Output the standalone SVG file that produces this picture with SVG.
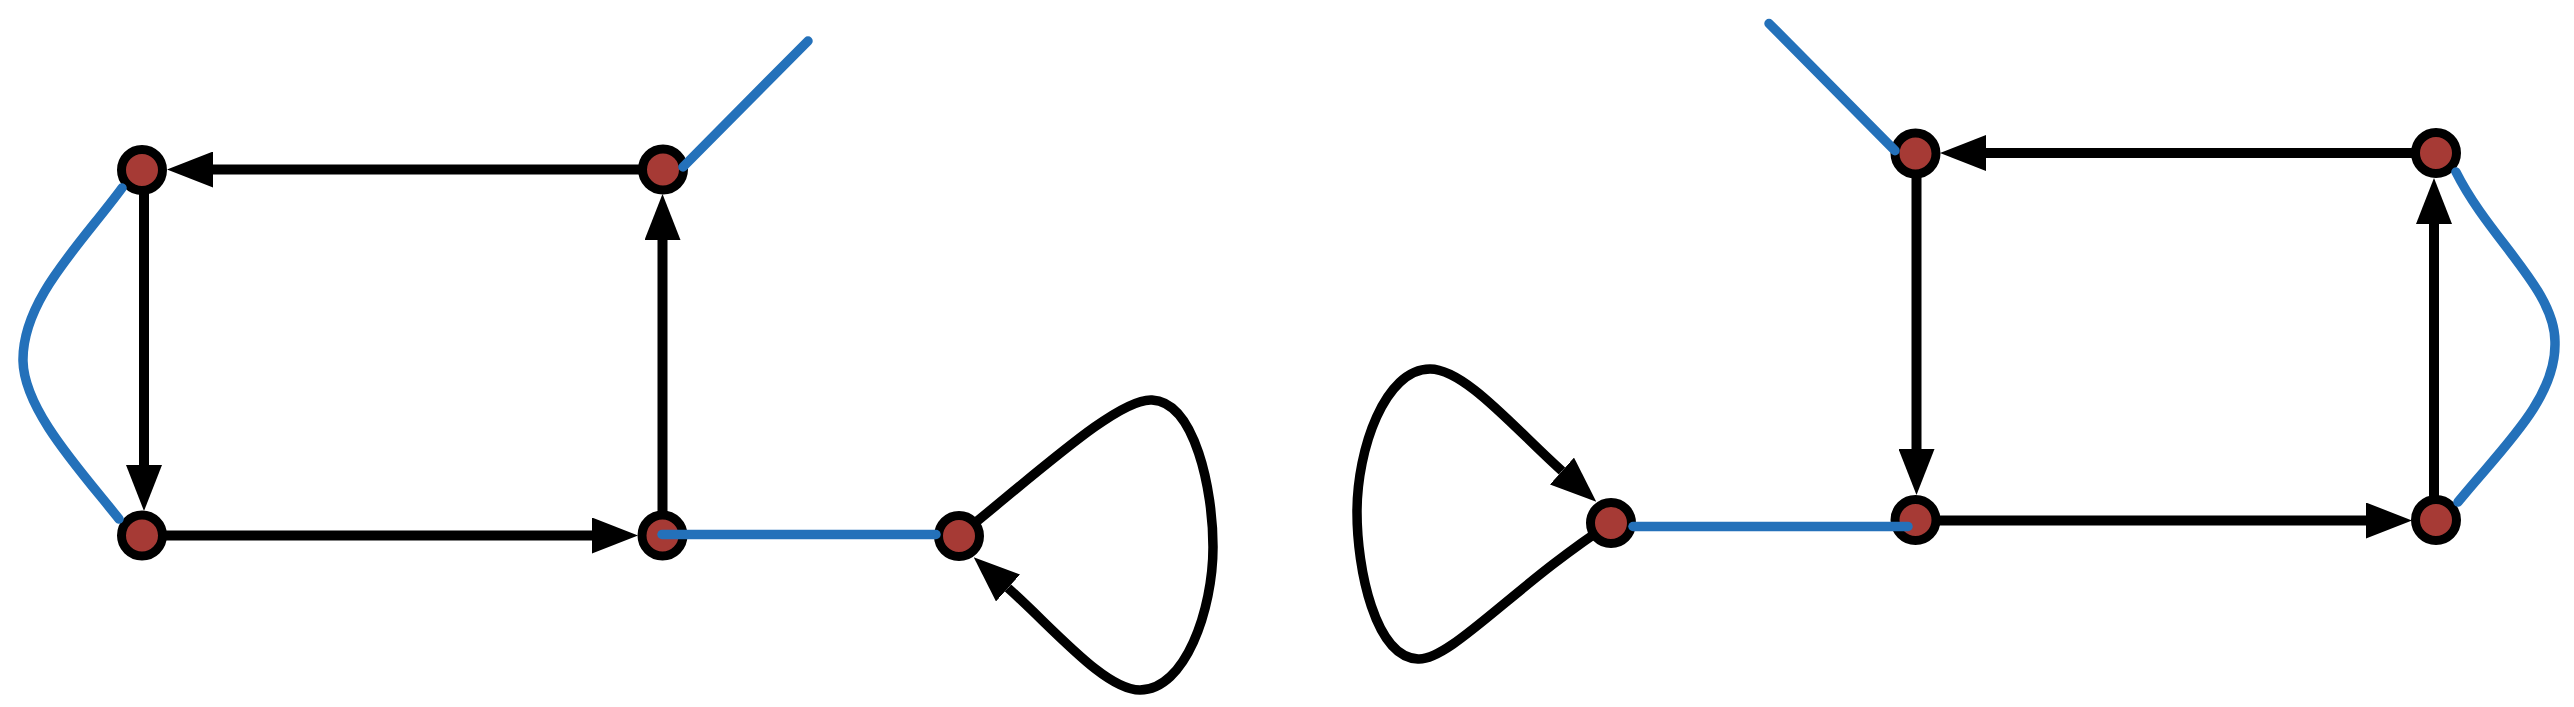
<svg xmlns="http://www.w3.org/2000/svg" width="2574" height="707" viewBox="0 0 2574 707">
<style>
.edge{fill:none;stroke:#000;stroke-width:10;marker-end:url(#arrow)}
.loop{fill:none;stroke:#000;stroke-width:9.5;marker-end:url(#arrow)}
.blue{fill:none;stroke:#2471ba;stroke-width:9.5;stroke-linecap:round}
.node circle{fill:#a63a35;stroke:#000;stroke-width:9}
</style>
<defs>
<marker id="arrow" markerUnits="userSpaceOnUse" viewBox="0 0 46 36" markerWidth="46" markerHeight="36" refX="0" refY="18" orient="auto">
<path d="M0,0 L46,18 L0,36 Z" fill="#000"/>
</marker>
</defs>
<rect width="2574" height="707" fill="#fff"/>
<g id="connectors">
<path class="edge" d="M663,169.5 L213,169.5"/>
<path class="edge" d="M144,170 L144,465"/>
<path class="edge" d="M142,535.5 L592,535.5"/>
<path class="edge" d="M662.5,535.5 L662.5,240"/>
<path class="loop" d="M959,536 C1050,462 1120,398 1152,400 C1195,402 1213,490 1213,547 C1213,610 1185,690 1140,690 C1105,690 1055,630 1008,588"/>
<path class="edge" d="M2436,153 L1986,153"/>
<path class="edge" d="M1916.5,154 L1916.5,449"/>
<path class="edge" d="M1916,520.5 L2366,520.5"/>
<path class="edge" d="M2434,520 L2434,224"/>
<path class="loop" d="M1611,523 C1515,585 1450,661 1418,659 C1375,657 1357,569 1357,512 C1357,449 1385,369 1430,369 C1465,369 1515,429 1562,471"/>
</g>
<g id="n1" class="node"><circle cx="142" cy="170" r="20.5"/></g>
<g id="n2" class="node"><circle cx="663" cy="169.5" r="20.5"/></g>
<g id="n3" class="node"><circle cx="142" cy="535.5" r="20.5"/></g>
<g id="n4" class="node"><circle cx="662.5" cy="535.5" r="20.5"/></g>
<g id="n5" class="node"><circle cx="959" cy="536" r="20.5"/></g>
<g id="n6" class="node"><circle cx="1915.5" cy="153.5" r="20.5"/></g>
<g id="n7" class="node"><circle cx="2436" cy="153" r="20.5"/></g>
<g id="n8" class="node"><circle cx="1915.5" cy="520" r="20.5"/></g>
<g id="n9" class="node"><circle cx="2436" cy="520" r="20.5"/></g>
<g id="n10" class="node"><circle cx="1611" cy="523" r="20.5"/></g>
<g id="connectors-undirected">
<path class="blue" d="M122,188 C80,245 22,300 23,361 C24,410 80,470 119,519"/>
<path class="blue" d="M683,167 L808,41"/>
<path class="blue" d="M662,534.5 L936,534.5"/>
<path class="blue" d="M1895,150.7 L1769,23.5"/>
<path class="blue" d="M1633,526.5 L1908,526.5"/>
<path class="blue" d="M2456,172 C2490,240 2556,290 2555,343 C2556,400 2500,450 2458,502"/>
</g>
</svg>
